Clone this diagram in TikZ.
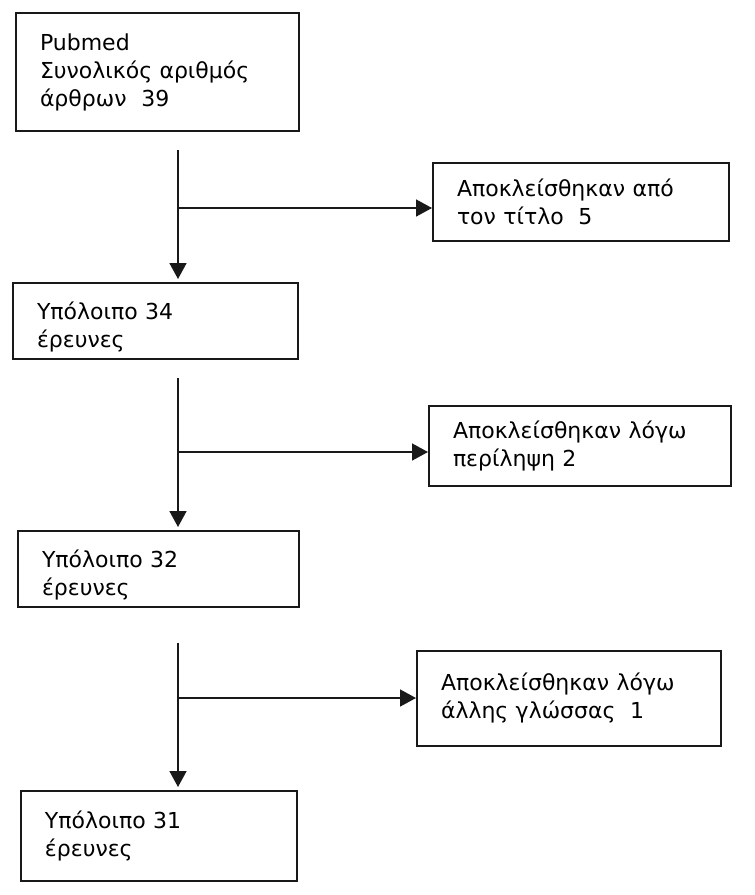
\documentclass[tikz,border=0pt]{standalone}
\usepackage{fontspec}
\setmainfont{DejaVu Sans}
\usetikzlibrary{arrows.meta,calc}
\newcommand{\lowerby}{\rule{0pt}{30pt}}
\begin{document}
\begin{tikzpicture}[x=1pt,y=-1pt,
  box/.style={draw=black!90,line width=2pt,anchor=north west,align=left,
    inner xsep=24pt,inner ysep=0pt,font=\fontsize{22}{28}\selectfont},
  conn/.style={draw=black!90,line width=1.6pt},
  arr/.style={conn,-{Triangle[length=16pt,width=17pt]}}]
\useasboundingbox (0,0) rectangle (755,895);
% main boxes
\node[box,text width=235pt,minimum height=118pt] (b1) at (15,12)
  {Pubmed\\Συνολικός αριθμός\\άρθρων\ \ 39};
\node[box,text width=237pt,minimum height=76pt] (b2) at (12,282)
  {\lowerby Υπόλοιπο 34\\έρευνες};
\node[box,text width=233pt,minimum height=76pt] (b3) at (17,530)
  {\lowerby Υπόλοιπο 32\\έρευνες};
\node[box,text width=228pt,minimum height=90pt] (b4) at (20,790)
  {Υπόλοιπο 31\\έρευνες};
% exclusion boxes
\node[box,text width=248pt,minimum height=78pt] (e1) at (432,162)
  {Αποκλείσθηκαν από\\τον τίτλο\ \ 5};
\node[box,text width=254pt,minimum height=80pt] (e2) at (428,405)
  {Αποκλείσθηκαν λόγω\\περίληψη 2};
\node[box,text width=256pt,minimum height=95pt] (e3) at (416,650)
  {Αποκλείσθηκαν λόγω\\άλλης γλώσσας\ \ 1};
% connector points
\coordinate (s1) at (178,150);
\coordinate (j1) at (178,208);
\coordinate (s2) at (178,378);
\coordinate (j2) at (178,452);
\coordinate (s3) at (178,643);
\coordinate (j3) at (178,698);
% arrows
\draw[arr,shorten >=3pt] (s1) -- (s1 |- b2.north);
\draw[arr] (j1) -- (j1 -| e1.west);
\draw[arr,shorten >=3pt] (s2) -- (s2 |- b3.north);
\draw[arr] (j2) -- (j2 -| e2.west);
\draw[arr,shorten >=3pt] (s3) -- (s3 |- b4.north);
\draw[arr] (j3) -- (j3 -| e3.west);
\end{tikzpicture}
\end{document}
